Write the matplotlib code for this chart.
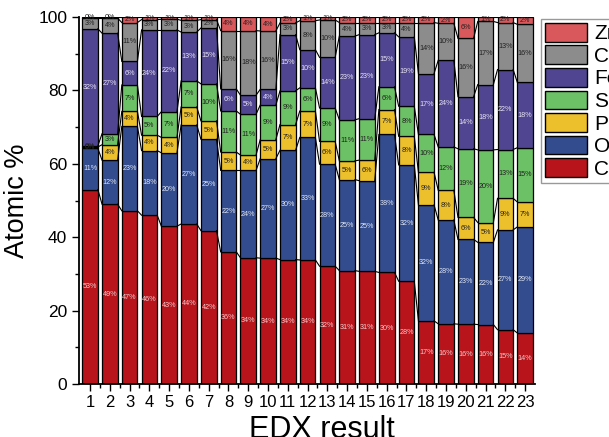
import numpy as np
import matplotlib
matplotlib.use("Agg")
import matplotlib.pyplot as plt
from matplotlib.patches import Patch

plt.rcParams['font.family'] = ['Liberation Sans', 'DejaVu Sans']

# EDX results (atomic %), one value per measurement 1..23
results = list(range(1, 24))
C = [53.0, 49.0, 47.2, 46.0, 43.0, 43.6, 41.8, 36.0, 34.4, 34.3, 33.9, 33.8,
     32.1, 30.9, 30.7, 30.4, 28.0, 17.2, 16.4, 16.3, 16.2, 14.8, 13.9]
O = [11.2, 12.0, 23.0, 17.6, 20.0, 27.0, 24.9, 22.2, 23.8, 27.1, 29.8, 33.4,
     27.8, 24.8, 24.7, 37.6, 31.7, 31.6, 28.3, 23.1, 22.4, 27.2, 28.9]
P = [0.4, 4.2, 4.1, 4.2, 4.2, 4.9, 5.0, 5.0, 4.2, 5.2, 7.0, 7.2,
     6.2, 5.1, 5.6, 6.8, 7.8, 8.9, 8.1, 6.0, 5.4, 8.6, 6.8]
S = [0.3, 3.0, 7.2, 5.1, 7.0, 7.1, 10.1, 11.2, 11.1, 9.4, 9.2, 6.3,
     9.1, 11.2, 11.3, 6.2, 8.2, 10.3, 11.8, 18.7, 19.8, 13.3, 14.8]
Fe = [31.9, 27.4, 6.4, 23.6, 22.3, 13.3, 15.2, 6.0, 5.2, 4.3, 15.3, 10.4,
      13.8, 22.8, 22.9, 14.7, 18.9, 16.6, 23.6, 14.2, 17.8, 21.8, 17.8]
Cu = [2.9, 4.1, 10.6, 2.8, 2.9, 3.2, 2.3, 15.9, 17.6, 15.9, 3.2, 7.9,
      10.2, 3.7, 3.3, 2.8, 3.9, 13.9, 10.1, 15.9, 17.2, 12.8, 15.8]
Zn = [0.3, 0.3, 1.5, 0.7, 0.6, 0.9, 0.7, 3.7, 3.7, 3.8, 1.6, 1.0,
      0.8, 1.5, 1.5, 1.5, 1.5, 1.5, 1.7, 5.8, 1.2, 1.5, 2.0]

elements = ['C', 'O', 'P', 'S', 'Fe', 'Cu', 'Zn']
series = [C, O, P, S, Fe, Cu, Zn]
colors = ['#b8141b', '#324c8e', '#ecbf2c', '#6cc065', '#4f4590', '#8c8c8c', '#d8585b']
text_colors = ['#f2c9cb', '#dfe4f2', '#222222', '#222222', '#e6e2f2', '#222222', '#222222']

fig = plt.figure(figsize=(6.09, 4.37), dpi=100)
ax = fig.add_axes([0.1297, 0.1213, 0.7488, 0.8397])

x = np.array(results)
width = 0.79
bottom = np.zeros(len(x))
for vals, col, tcol in zip(series, colors, text_colors):
    vals = np.array(vals)
    ax.bar(x, vals, width, bottom=bottom, color=col, edgecolor='black',
           linewidth=0.9, zorder=2)
    top = bottom + vals
    # connector lines between neighbouring bars
    for i in range(len(x) - 1):
        ax.plot([x[i] + width / 2, x[i + 1] - width / 2], [top[i], top[i + 1]],
                color='black', lw=0.8, zorder=3)
    for xi, b, v in zip(x, bottom, vals):
        ax.text(xi, b + v / 2, f"{v:.0f}%", ha='center', va='center',
                fontsize=5.2, color=tcol, zorder=4)
    bottom = top

ax.set_xlim(0.44, 23.5)
ax.set_ylim(0, 100)
ax.set_xticks(x)
ax.set_xticks(x[:-1] + 0.5, minor=True)
ax.set_yticks(range(0, 101, 20))
ax.set_yticks(range(10, 100, 20), minor=True)
ax.tick_params(axis='x', which='major', direction='out', length=5, width=1, labelsize=12, pad=3)
ax.tick_params(axis='y', which='major', direction='out', length=5, width=1, labelsize=12.5)
ax.tick_params(which='minor', direction='out', length=3, width=1)
for side in ['top', 'right']:
    ax.spines[side].set_visible(False)
for side in ['left', 'bottom']:
    ax.spines[side].set_linewidth(1.3)

ax.set_xlabel('EDX result', fontsize=22, va='top')
ax.xaxis.set_label_coords(0.533, -0.085)
ax.set_ylabel('Atomic %', fontsize=19.5, labelpad=6)

handles = [Patch(facecolor=c, edgecolor='black', label=e)
           for e, c in zip(elements, colors)][::-1]
fig.legend(handles=handles, loc='upper left', bbox_to_anchor=(0.888, 0.957),
           bbox_transform=fig.transFigure, fontsize=15, handlelength=2.0,
           handleheight=1.0, labelspacing=0.1, handletextpad=0.35,
           borderpad=0.2, borderaxespad=0, fancybox=False, edgecolor='#999999',
           framealpha=1)

fig.savefig('out.png', dpi=100)
